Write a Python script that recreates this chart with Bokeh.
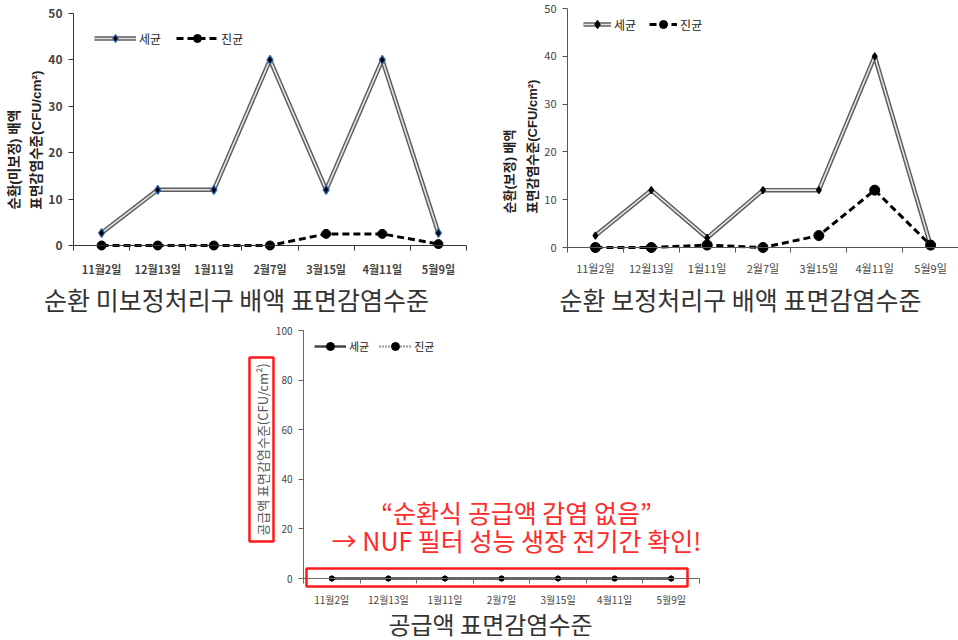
import math

from bokeh.embed import file_html
from bokeh.layouts import column, row, Spacer
from bokeh.models import (BoxAnnotation, FixedTicker, Label, Legend, LegendItem,
                          LinearAxis, Range1d)
from bokeh.plotting import figure
from bokeh.resources import INLINE

# 조사 일자
dates = ["11월2일", "12월13일", "1월11일", "2월7일", "3월15일", "4월11일", "5월9일"]

# 순환 미보정처리구 배액 (CFU/cm²)
uncorr_bacteria = [2.7, 12, 12, 40, 12, 40, 2.7]
uncorr_fungi = [0, 0, 0, 0, 2.5, 2.5, 0.3]

# 순환 보정처리구 배액 (CFU/cm²)
corr_bacteria = [2.5, 12, 2, 12, 12, 40, 0.5]
corr_fungi = [0, 0, 0.5, 0, 2.5, 12, 0.5]

# 공급액 (CFU/cm²)
supply_bacteria = [0, 0, 0, 0, 0, 0, 0]
supply_fungi = [0, 0, 0, 0, 0, 0, 0]

titles = ["순환 미보정처리구 배액 표면감염수준",
          "순환 보정처리구 배액 표면감염수준",
          "공급액 표면감염수준"]
ylabels = [["순환(미보정) 배액", "표면감염수준(CFU/cm²)"],
           ["순환(보정) 배액", "표면감염수준(CFU/cm²)"],
           ["공급액 표면감염수준(CFU/cm²)"]]
notes = ["“순환식 공급액 감염 없음”", "→ NUF 필터 성능 생장 전기간 확인!"]

KR = "Noto Sans CJK KR"
MIX = "Liberation Sans, Noto Sans CJK KR"
N = len(dates)
xs = [i + 0.5 for i in range(N)]


class Panel:
    """Figure whose frame fills the canvas; axes sit at fixed data locations."""

    def __init__(self, left, top, width, height, ax_left, ax_right, ax_zero, ax_top,
                 ymax, ystep, axis_color):
        self.left, self.top = left, top
        self.ax_left, self.ax_zero = ax_left, ax_zero
        self.pxu = (ax_right - ax_left) / N
        self.pyu = (ax_zero - ax_top) / ymax
        xr = Range1d((left - ax_left) / self.pxu, (left + width - ax_left) / self.pxu)
        yr = Range1d((ax_zero - (top + height)) / self.pyu, (ax_zero - top) / self.pyu)
        p = figure(width=width, height=height, x_range=xr, y_range=yr,
                   x_axis_location=None, y_axis_location=None,
                   output_backend="svg", toolbar_location=None,
                   min_border=0, min_border_left=0, min_border_right=0,
                   min_border_top=0, min_border_bottom=0)
        p.grid.visible = False
        p.outline_line_color = None

        xa = LinearAxis(fixed_location=0, bounds=(0, N))
        xa.ticker = FixedTicker(ticks=xs, minor_ticks=list(range(N + 1)))
        xa.major_label_overrides = {x: d for x, d in zip(xs, dates)}
        xa.major_tick_in = 0
        xa.major_tick_out = 0
        xa.minor_tick_in = 0
        xa.minor_tick_out = 5
        xa.axis_line_color = axis_color
        xa.minor_tick_line_color = axis_color
        xa.major_label_text_font = KR
        p.add_layout(xa, "below")

        ya = LinearAxis(fixed_location=0, bounds=(0, ymax))
        ya.ticker = FixedTicker(ticks=list(range(0, ymax + 1, ystep)))
        ya.major_tick_in = 0
        ya.major_tick_out = 5
        ya.minor_tick_line_color = None
        ya.axis_line_color = axis_color
        ya.major_tick_line_color = axis_color
        ya.major_label_text_font = KR
        p.add_layout(ya, "left")

        self.p, self.xa, self.ya = p, xa, ya

    # page pixel -> data coordinates
    def dx(self, px):
        return (px - self.ax_left) / self.pxu

    def dy(self, py):
        return (self.ax_zero - py) / self.pyu

    def text(self, px, py, text, size, color="#333333", align="center", style="normal",
             angle=0.0, font=KR):
        self.p.add_layout(Label(x=self.dx(px), y=self.dy(py), text=text, angle=angle,
                                text_align=align, text_baseline="middle",
                                text_font=font, text_font_size=size,
                                text_font_style=style, text_color=color))

    def legend(self, items, px, py, glyph_width, font_size, spacing):
        lg = Legend(items=items, location=(px - self.left, self.top + 320 - py - 10),
                    orientation="horizontal",
                    glyph_width=glyph_width, glyph_height=20, label_height=20,
                    padding=0, margin=0, spacing=spacing, label_standoff=3,
                    border_line_color=None, background_fill_alpha=0,
                    label_text_font=KR, label_text_font_size=font_size,
                    label_text_color="#222222")
        self.p.add_layout(lg)


def double_line(p, ys, marker_size, marker_line):
    outer = p.line(xs, ys, line_color="#5c5c5c", line_width=4.5)
    inner = p.line(xs, ys, line_color="#e4e4e4", line_width=1.6)
    pts = p.scatter(xs, ys, marker="diamond", size=marker_size,
                    fill_color="black", line_color=marker_line, line_width=1.2)
    return [outer, inner, pts]


def dashed_line(p, ys, marker_size):
    ln = p.line(xs, ys, line_color="black", line_width=3, line_dash="7 4")
    pts = p.scatter(xs, ys, marker="circle", size=marker_size, fill_color="black",
                    line_color="black")
    return [ln, pts]


UP = math.pi / 2

# ---- 순환 미보정처리구 ----
c1 = Panel(0, 0, 479, 320, 73, 466, 245, 13, 50, 10, "#333333")
r1a = double_line(c1.p, uncorr_bacteria, 9, "#2f62b5")
r1b = dashed_line(c1.p, uncorr_fungi, 9)
c1.legend([LegendItem(label="세균", renderers=r1a),
           LegendItem(label="진균", renderers=r1b)], 94, 38, 42, "12px", 15)
c1.xa.major_label_text_font_style = "bold"
c1.xa.major_label_text_font_size = "11px"
c1.xa.major_label_standoff = 10
c1.ya.major_label_text_font_style = "bold"
c1.ya.major_label_text_font_size = "12px"
c1.ya.major_label_standoff = 6
c1.text(14, 209, ylabels[0][0], "13.5px", "#222222", "left", "bold", UP, MIX)
c1.text(36, 209, ylabels[0][1], "13.5px", "#222222", "left", "bold", UP, MIX)
c1.text(236, 298, titles[0], "25px")

# ---- 순환 보정처리구 ----
c2 = Panel(479, 0, 479, 320, 567, 958, 247, 8, 50, 10, "#555555")
r2a = double_line(c2.p, corr_bacteria, 7, "black")
r2b = dashed_line(c2.p, corr_fungi, 10)
c2.legend([LegendItem(label="세균", renderers=r2a),
           LegendItem(label="진균", renderers=r2b)], 583, 24, 28, "12px", 13)
c2.xa.major_label_text_font_size = "11px"
c2.xa.major_label_standoff = 7
c2.ya.major_label_text_font_size = "11px"
c2.ya.major_label_standoff = 6
c2.text(509, 213, ylabels[1][0], "13px", "#222222", "left", "bold", UP, MIX)
c2.text(532, 213, ylabels[1][1], "13px", "#222222", "left", "bold", UP, MIX)
c2.text(740, 298, titles[1], "25px")

# ---- 공급액 ----
c3 = Panel(240, 320, 480, 320, 303, 699, 578, 330, 100, 20, "#666666")
p3 = c3.p
s_line = p3.line(xs, supply_bacteria, line_color="#444444", line_width=2.5)
s_pts = p3.scatter(xs, supply_bacteria, marker="circle", size=5, fill_color="black",
                   line_color="black")
f_line = p3.line(xs, supply_fungi, line_color="#333333", line_width=2, line_dash="1 2")
f_pts = p3.scatter(xs, supply_fungi, marker="circle", size=5, fill_color="black",
                   line_color="black")
c3.legend([LegendItem(label="세균", renderers=[s_line, s_pts]),
           LegendItem(label="진균", renderers=[f_line, f_pts])], 314, 346, 32, "11px", 10)
c3.xa.major_label_text_font_size = "10px"
c3.xa.major_label_text_color = "#444444"
c3.xa.major_label_standoff = 8
c3.ya.major_label_text_font_size = "10px"
c3.ya.major_label_text_color = "#444444"
c3.ya.major_label_standoff = 6
c3.text(262, 449, ylabels[2][0], "13px", "#555555", "center", "normal", UP)
c3.text(490, 623, titles[2], "24px")

# 강조 표시
for l, r, t, b in [(249, 273, 357, 541), (306, 687, 568, 586)]:
    p3.add_layout(BoxAnnotation(left=c3.dx(l), right=c3.dx(r), top=c3.dy(t),
                                bottom=c3.dy(b), fill_alpha=0, line_alpha=1,
                                line_color="#ff1a1a", line_width=2.5))
for py, text in zip([511, 539], notes):
    c3.text(516, py, text, "25px", "#ff2a2a")

layout = column(row(c1.p, c2.p), row(Spacer(width=240, height=320), p3))

with open("out.html", "w") as f:
    f.write(file_html(layout, INLINE))
